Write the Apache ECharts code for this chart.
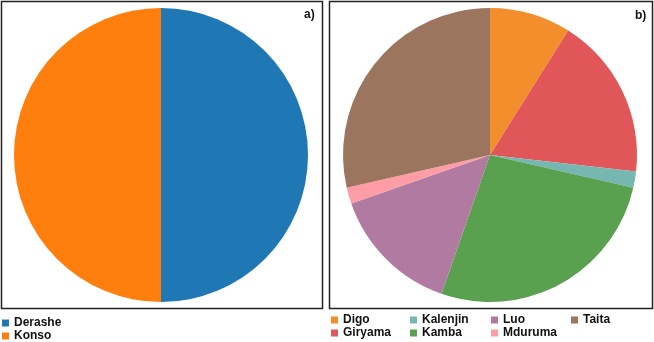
<!DOCTYPE html>
<html>
<head>
<meta charset="utf-8">
<script src="https://cdn.jsdelivr.net/npm/echarts@6/dist/echarts.min.js"></script>
<style>
  html, body { margin: 0; padding: 0; background: #fff; }
  #chart { width: 654px; height: 342px; }
</style>
</head>
<body>
<div id="chart"></div>
<script>
// panel a
const sitesA = ["Derashe", "Konso"];
const countsA = [1, 1];
const colorsA = ["#1f77b4", "#ff7f0e"];

// panel b
const groupsB = ["Digo", "Giryama", "Kalenjin", "Kamba", "Luo", "Mduruma", "Taita"];
const countsB = [5, 10, 1, 15, 8, 1, 16];
const colorsB = ["#f28e2b", "#e15759", "#76b7b2", "#59a14f", "#b07aa1", "#ff9da7", "#9c755f"];

const legendText = { fontFamily: "Liberation Sans", fontWeight: "bold", fontSize: 12, color: "#111" };

const chart = echarts.init(document.getElementById("chart"), null, { renderer: "canvas" });

const pieBase = {
  type: "pie",
  radius: 147,
  startAngle: 90,
  clockwise: true,
  label: { show: false },
  labelLine: { show: false },
  emphasis: { disabled: true },
  itemStyle: { borderWidth: 0 },
  animation: false
};

// legend for panel b, column by column
const colsB = [[0, 1], [2, 3], [4, 5], [6]];
const colX = [331, 410, 491, 571];
const legendsB = colsB.map((idx, i) => ({
  orient: "vertical",
  left: colX[i],
  top: 314,
  icon: "rect",
  itemWidth: 7,
  itemHeight: 7,
  itemGap: 1,
  padding: 0,
  textStyle: legendText,
  selectedMode: false,
  data: idx.map(k => groupsB[k])
}));

const option = {
  animation: false,
  graphic: [
    { type: "rect", shape: { x: 1.5, y: 1.5, width: 321, height: 307 }, style: { fill: "none", stroke: "#222", lineWidth: 1.5 } },
    { type: "rect", shape: { x: 329.5, y: 1.5, width: 323, height: 307 }, style: { fill: "none", stroke: "#222", lineWidth: 1.5 } },
    { type: "text", left: 304, top: 9, style: { text: "a)", font: "bold 12px Liberation Sans", fill: "#111" } },
    { type: "text", left: 635, top: 10, style: { text: "b)", font: "bold 12px Liberation Sans", fill: "#111" } }
  ],
  legend: [
    {
      orient: "vertical",
      left: 2,
      top: 317,
      icon: "rect",
      itemWidth: 7,
      itemHeight: 7,
      itemGap: 1,
      padding: 0,
      textStyle: legendText,
      selectedMode: false,
      data: sitesA
    }
  ].concat(legendsB),
  series: [
    Object.assign({}, pieBase, {
      name: "a",
      center: [161, 155],
      data: sitesA.map((n, i) => ({ name: n, value: countsA[i], itemStyle: { color: colorsA[i] } }))
    }),
    Object.assign({}, pieBase, {
      name: "b",
      center: [490, 155],
      data: groupsB.map((n, i) => ({ name: n, value: countsB[i], itemStyle: { color: colorsB[i] } }))
    })
  ]
};

chart.setOption(option);
</script>
</body>
</html>
